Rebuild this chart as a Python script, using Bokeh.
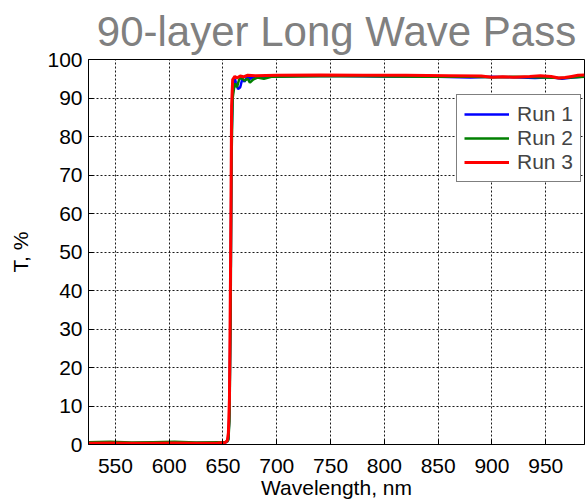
from bokeh.plotting import figure
from bokeh.models import Range1d, FixedTicker, Legend, LegendItem
from bokeh.embed import file_html
from bokeh.resources import INLINE

# Transmission spectra of three deposition runs of a 90-layer long-wave-pass filter
wl_run1 = [525, 545, 565, 585, 605, 625, 645, 652, 654, 655, 656, 657, 658, 659, 660,
           661, 662, 664, 666, 668, 670, 672, 675, 680, 690, 720, 760, 800, 840, 880,
           900, 920, 940, 955, 965, 975, 986]
t_run1 = [0.3, 0.4, 0.3, 0.4, 0.3, 0.4, 0.4, 0.5, 0.8, 1.5, 8, 35, 80, 91, 93.5,
          95.0, 94.0, 92.3, 92.8, 95.0, 94.2, 95.4, 95.0, 95.6, 95.5, 95.7, 95.7, 95.6, 95.6, 95.3,
          95.5, 95.4, 95.2, 95.4, 95.0, 95.3, 95.6]

wl_run2 = [525, 545, 565, 585, 605, 625, 645, 652, 654, 655, 656, 657, 658, 659, 660,
           661, 663, 665, 667, 670, 673, 675, 678, 682, 688, 695, 720, 760, 800, 840, 880,
           900, 920, 940, 965, 986]
t_run2 = [0.6, 0.7, 0.5, 0.6, 0.7, 0.5, 0.6, 0.6, 0.8, 1.2, 6, 30, 75, 90, 92.0,
          93.8, 92.8, 94.8, 95.3, 94.5, 95.0, 94.0, 94.8, 95.3, 95.0, 95.5, 95.6, 95.7, 95.6, 95.5, 95.5,
          95.4, 95.5, 95.4, 95.2, 95.5]

wl_run3 = [525, 545, 565, 585, 605, 625, 645, 652, 654, 655, 656, 657, 658, 659, 661,
           663, 666, 669, 673, 680, 700, 740, 780, 820, 860, 890, 900, 910, 920, 935,
           945, 955, 962, 968, 974, 980, 986]
t_run3 = [0.3, 0.4, 0.3, 0.3, 0.4, 0.3, 0.4, 0.5, 1.0, 3, 12, 45, 88, 94.8, 95.6,
          95.2, 95.7, 95.5, 95.9, 95.8, 95.9, 96.0, 95.9, 95.9, 95.8, 95.7, 95.4, 95.5, 95.4, 95.6,
          95.8, 95.6, 95.2, 95.3, 95.6, 95.9, 96.0]

x_ticks = [550, 600, 650, 700, 750, 800, 850, 900, 950]
y_ticks = [0, 10, 20, 30, 40, 50, 60, 70, 80, 90, 100]

FONT = "Liberation Sans"

p = figure(width=585, height=501, output_backend="svg", toolbar_location=None,
           x_range=Range1d(525, 986), y_range=Range1d(0, 100),
           min_border_left=88, min_border_right=1, min_border_top=59, min_border_bottom=56)

p.title.text = "90-layer Long Wave Pass"
p.title.align = "center"
p.title.vertical_align = "top"
p.title.text_font = FONT
p.title.text_font_size = "42px"
p.title.text_font_style = "normal"
p.title.text_color = "#808080"
p.title.standoff = 6

p.outline_line_color = "black"
p.outline_line_alpha = 1
p.background_fill_color = "white"
p.border_fill_color = "white"

for ax in (p.xaxis[0], p.yaxis[0]):
    ax.axis_line_color = "black"
    ax.major_tick_line_color = "black"
    ax.major_tick_in = 5
    ax.major_tick_out = 0
    ax.minor_tick_line_color = None
    ax.major_label_text_font = FONT
    ax.major_label_text_font_size = "21px"
    ax.major_label_text_color = "black"
    ax.axis_label_text_font = FONT
    ax.axis_label_text_font_size = "21px"
    ax.axis_label_text_font_style = "normal"
    ax.axis_label_text_color = "black"

p.xaxis.ticker = FixedTicker(ticks=x_ticks)
p.yaxis.ticker = FixedTicker(ticks=y_ticks)
p.xaxis.axis_label = "Wavelength, nm"
p.yaxis.axis_label = "T, %"
p.xaxis.major_label_standoff = 14
p.xaxis.axis_label_standoff = 0
p.yaxis.major_label_standoff = 6
p.yaxis.axis_label_standoff = 12

for g in (p.xgrid[0], p.ygrid[0]):
    g.grid_line_color = "black"
    g.grid_line_dash = "2 2"
    g.grid_line_width = 1
    g.grid_line_alpha = 0.9
p.xgrid.ticker = FixedTicker(ticks=x_ticks)
p.ygrid.ticker = FixedTicker(ticks=y_ticks)

r1 = p.line(wl_run1, t_run1, line_color="#0000ff", line_width=2.5)
r2 = p.line(wl_run2, t_run2, line_color="#008000", line_width=2.5)
r3 = p.line(wl_run3, t_run3, line_color="#ff0000", line_width=3)

legend = Legend(items=[LegendItem(label="Run 1", renderers=[r1]),
                       LegendItem(label="Run 2", renderers=[r2]),
                       LegendItem(label="Run 3", renderers=[r3])],
                location=(368, 262))
legend.border_line_color = "black"
legend.border_line_width = 1
legend.background_fill_color = "white"
legend.background_fill_alpha = 1
legend.label_text_font = FONT
legend.label_text_font_size = "21px"
legend.glyph_width = 45
legend.glyph_height = 20
legend.label_height = 20
legend.label_standoff = 8
legend.padding = 7
legend.spacing = 0
legend.margin = 0
p.add_layout(legend, "center")

open("out.html", "w").write(file_html(p, INLINE))
